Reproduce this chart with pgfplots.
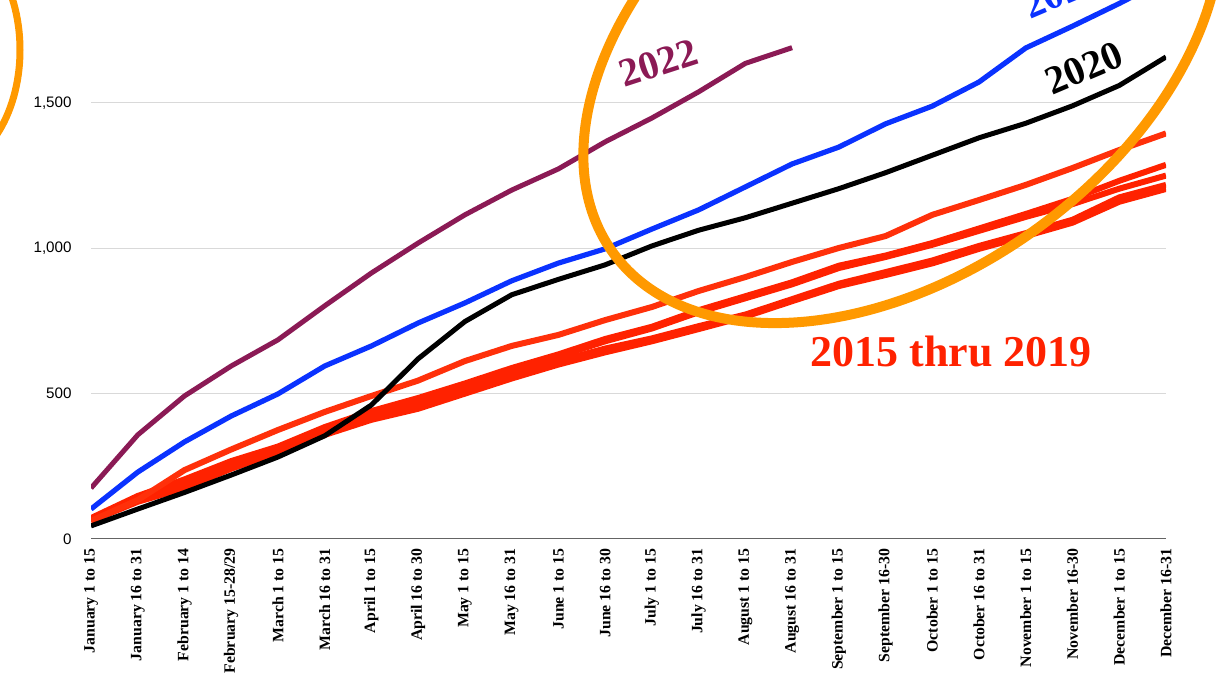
\documentclass[border=0pt]{standalone}
\usepackage{fontspec}
\setmainfont{Liberation Serif}
\newfontfamily\sansf{Liberation Sans}
\usepackage{pgfplots}
\pgfplotsset{compat=1.18}
\definecolor{c22}{RGB}{139,26,85}
\definecolor{c21}{RGB}{10,50,255}
\definecolor{cred}{RGB}{255,34,0}
\definecolor{credA}{RGB}{255,48,10}
\definecolor{corange}{RGB}{255,153,0}
\definecolor{cgrid}{RGB}{217,217,217}
\definecolor{caxis}{RGB}{100,100,100}
\begin{document}
\begin{tikzpicture}
\path[use as bounding box] (0,0) rectangle (614.5pt,339pt);
\begin{axis}[
  at={(45.5pt,69.5pt)}, anchor=south west,
  scale only axis, width=537.5pt, height=269.5pt,
  xmin=0, xmax=23, ymin=0, ymax=1854,
  axis line style={draw=none},
  ytick={0,500,1000,1500}, yticklabels={0,500,{1,000},{1,500}},
  ymajorgrids, grid style={cgrid, line width=0.5pt},
  major tick length=0pt,
  xtick={0,...,23},
  xticklabels={January 1 to 15, January 16 to 31, February 1 to 14, February 15-28/29, March 1 to 15, March 16 to 31, April 1 to 15, April 16 to 30, May 1 to 15, May 16 to 31, June 1 to 15, June 16 to 30, July 1 to 15, July 16 to 31, August 1 to 15, August 16 to 31, September 1 to 15, September 16-30, October 1 to 15, October 16 to 31, November 1 to 15, November 16-30, December 1 to 15, December 16-31},
  xticklabel style={rotate=90, anchor=east, inner xsep=4.5pt, inner ysep=0pt, font=\fontsize{7.9}{9}\selectfont\bfseries},
  yticklabel style={anchor=east, inner xsep=9.5pt, inner ysep=0pt, font=\sansf\fontsize{7.6}{9}\selectfont},
  clip=true,
  every axis plot/.append style={line join=round},
]
\draw[caxis, line width=1pt] (axis cs:0,0) -- (axis cs:23,0);
% 2015-2019
\addplot[cred, line width=3pt] coordinates {(0,62)(1,128)(2,175)(3,242)(4,296)(5,358)(6,410)(7,448)(8,500)(9,552)(10,600)(11,642)(12,680)(13,722)(14,765)(15,818)(16,870)(17,908)(18,948)(19,998)(20,1042)(21,1088)(22,1160)(23,1204)};
\addplot[cred, line width=3pt] coordinates {(0,66)(1,135)(2,185)(3,250)(4,303)(5,365)(6,420)(7,462)(8,512)(9,565)(10,612)(11,655)(12,690)(13,732)(14,772)(15,825)(16,878)(17,918)(18,958)(19,1008)(20,1052)(21,1098)(22,1175)(23,1218)};
\addplot[cred, line width=3pt] coordinates {(0,68)(1,142)(2,195)(3,260)(4,310)(5,378)(6,432)(7,478)(8,527)(9,578)(10,628)(11,680)(12,724)(13,780)(14,828)(15,876)(16,932)(17,970)(18,1012)(19,1060)(20,1108)(21,1152)(22,1205)(23,1250)};
\addplot[cred, line width=3pt] coordinates {(0,72)(1,148)(2,205)(3,268)(4,318)(5,385)(6,440)(7,485)(8,535)(9,588)(10,635)(11,688)(12,730)(13,787)(14,835)(15,883)(16,940)(17,975)(18,1018)(19,1068)(20,1118)(21,1170)(22,1232)(23,1287)};
\addplot[credA, line width=3pt] coordinates {(0,62)(1,134)(2,237)(3,308)(4,375)(5,437)(6,492)(7,545)(8,612)(9,664)(10,702)(11,753)(12,798)(13,853)(14,901)(15,953)(16,1001)(17,1042)(18,1115)(19,1166)(20,1218)(21,1276)(22,1338)(23,1395)};
% 2020
\addplot[black, line width=2.5pt] coordinates {(0,45)(1,103)(2,160)(3,220)(4,282)(5,355)(6,461)(7,620)(8,748)(9,840)(10,893)(11,943)(12,1008)(13,1062)(14,1105)(15,1155)(16,1205)(17,1260)(18,1320)(19,1380)(20,1430)(21,1490)(22,1560)(23,1658)};
% 2021
\addplot[c21, line width=2.6pt] coordinates {(0,103)(1,230)(2,334)(3,423)(4,499)(5,595)(6,664)(7,743)(8,812)(9,888)(10,949)(11,998)(12,1066)(13,1132)(14,1211)(15,1290)(16,1348)(17,1428)(18,1489)(19,1572)(20,1689)(21,1764)(22,1842)(23,1925)};
% 2022
\addplot[c22, line width=2.5pt] coordinates {(0,175)(1,358)(2,492)(3,595)(4,685)(5,802)(6,915)(7,1018)(8,1115)(9,1200)(10,1273)(11,1366)(12,1448)(13,1538)(14,1636)(15,1690)};
\end{axis}
\begin{scope}
\clip (0,0) rectangle (614.5pt,339pt);
\draw[corange, line width=5pt, rotate around={35.8:(451pt,317pt)}] (451pt,317pt) ellipse [x radius=178.25pt, y radius=114.35pt];
\draw[corange, line width=3.5pt] (-30pt,314pt) ellipse [x radius=40pt, y radius=60pt];
\node[c22, rotate=18, font=\fontsize{20}{24}\selectfont\bfseries, inner sep=0pt] at (329pt,307.5pt) {2022};
\node[black, rotate=23, font=\fontsize{20}{24}\selectfont\bfseries, inner sep=0pt] at (542pt,305pt) {2020};
\node[c21, rotate=23, font=\fontsize{20}{24}\selectfont\bfseries, inner sep=0pt] at (531pt,343pt) {2021};
\node[cred, font=\fontsize{22}{26}\selectfont\bfseries, inner sep=0pt] at (475.5pt,163pt) {2015 thru 2019};
\end{scope}
\end{tikzpicture}
\end{document}
